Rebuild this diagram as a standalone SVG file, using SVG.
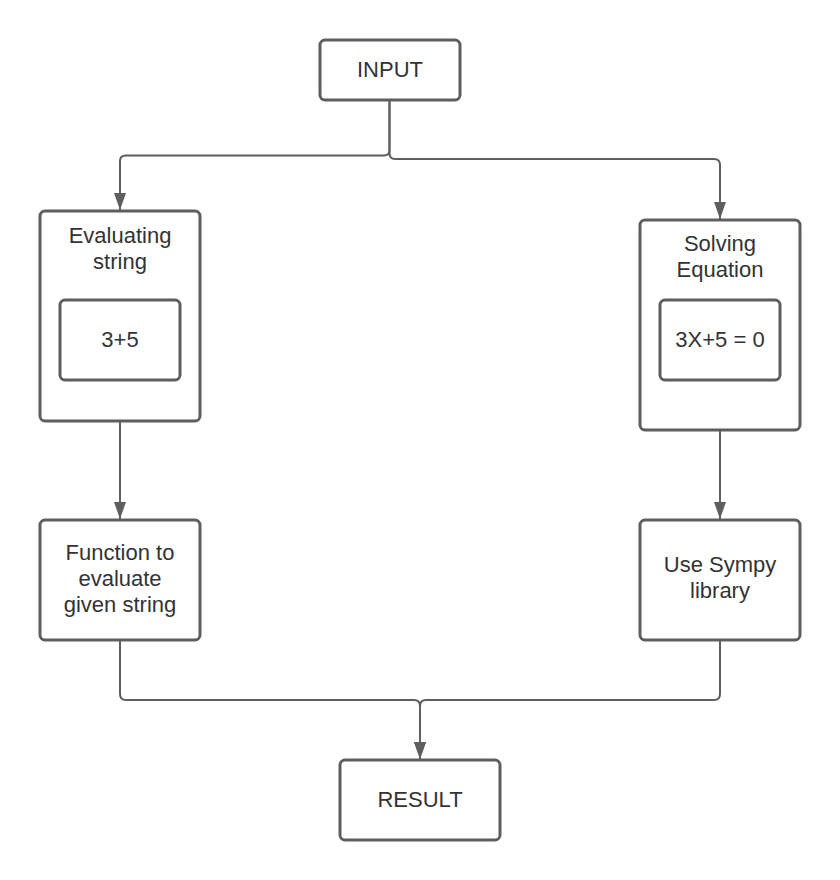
<svg xmlns="http://www.w3.org/2000/svg" width="840" height="880" viewBox="0 0 840 880">
<style>
.box{fill:#ffffff;stroke:#5e5e5e;stroke-width:3}
.lbl{font-family:"Liberation Sans",Arial,sans-serif;font-size:22px;fill:#333333;text-anchor:middle}
.con{fill:none;stroke:#5e5e5e;stroke-width:2}
</style>
<defs>
<marker id="arrd" viewBox="0 0 17 12" refX="17" refY="6" markerWidth="17" markerHeight="12" markerUnits="userSpaceOnUse" orient="auto">
<path d="M0 0 L17 6 L0 12 Z" fill="#5e5e5e"/>
</marker>
</defs>
<rect width="840" height="880" fill="#ffffff"/>
<g id="connectors">
<path class="con" d="M389.5 101 V150 Q389.5 155.5 384 155.5 H125.5 Q120 155.5 120 161 V210" marker-end="url(#arrd)"/>
<path class="con" d="M389.5 101 V153 Q389.5 159 395 159 H714 Q720 159 720 165 V219" marker-end="url(#arrd)"/>
<path class="con" d="M120 422 V519" marker-end="url(#arrd)"/>
<path class="con" d="M720 431 V519" marker-end="url(#arrd)"/>
<path class="con" d="M120 641 V694 Q120 700 126 700 H414 Q420 700 420 706 V759" marker-end="url(#arrd)"/>
<path class="con" d="M720 641 V694 Q720 700 714 700 H426 Q420 700 420 706 V759" marker-end="url(#arrd)"/>
</g>
<g id="input">
<rect class="box" x="320" y="40" width="140" height="60" rx="5"/>
<text class="lbl" x="390" y="77">INPUT</text>
</g>
<g id="evaluating">
<rect class="box" x="40" y="211" width="160" height="210" rx="5"/>
<text class="lbl" x="120" y="243">Evaluating</text>
<text class="lbl" x="120" y="269">string</text>
</g>
<g id="expr1">
<rect class="box" x="60" y="300" width="120" height="80" rx="5"/>
<text class="lbl" x="120" y="347">3+5</text>
</g>
<g id="solving">
<rect class="box" x="640" y="220" width="160" height="210" rx="5"/>
<text class="lbl" x="720" y="251">Solving</text>
<text class="lbl" x="720" y="277">Equation</text>
</g>
<g id="expr2">
<rect class="box" x="660" y="300" width="120" height="80" rx="5"/>
<text class="lbl" x="720" y="347">3X+5 = 0</text>
</g>
<g id="function">
<rect class="box" x="40" y="520" width="160" height="120" rx="5"/>
<text class="lbl" x="120" y="560">Function to</text>
<text class="lbl" x="120" y="586">evaluate</text>
<text class="lbl" x="120" y="612">given string</text>
</g>
<g id="sympy">
<rect class="box" x="640" y="520" width="160" height="120" rx="5"/>
<text class="lbl" x="720" y="572">Use Sympy</text>
<text class="lbl" x="720" y="598">library</text>
</g>
<g id="result">
<rect class="box" x="340" y="760" width="160" height="80" rx="5"/>
<text class="lbl" x="420" y="807">RESULT</text>
</g>
</svg>
